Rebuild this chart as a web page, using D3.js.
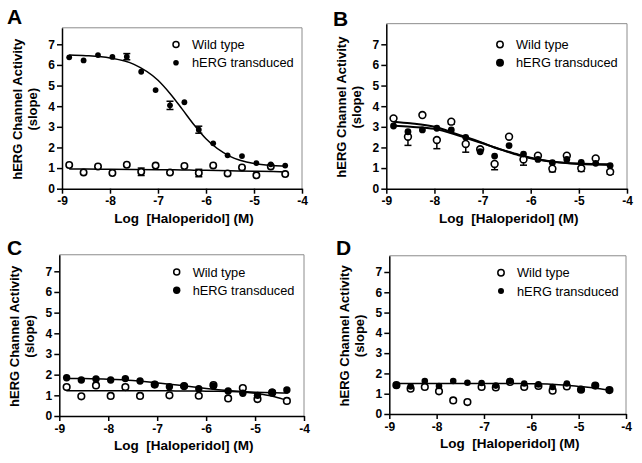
<!DOCTYPE html>
<html>
<head>
<meta charset="utf-8">
<script src="https://cdn.jsdelivr.net/npm/d3@7"></script>
<style>
  body { margin: 0; background: #fff; }
  svg { display: block; font-family: Arial, "Liberation Sans", sans-serif; }
</style>
</head>
<body>
<svg id="chart" width="642" height="463"></svg>
<script>
// concentrations, log10 M (2-fold dilution series)
const logConc = [-8.85, -8.55, -8.25, -7.95, -7.65, -7.35, -7.05, -6.75,
                 -6.45, -6.15, -5.85, -5.55, -5.25, -4.95, -4.65, -4.35];

// measured slopes
const aHerg = [6.37, 6.22, 6.48, 6.39, 6.40, 5.67, 4.78, 4.04, 4.19, 2.86, 2.20, 1.62, 1.58, 1.24, 1.18, 1.12];
const aWild = [1.15, 0.79, 1.08, 0.76, 1.16, 0.82, 1.12, 0.78, 1.10, 0.76, 1.13, 0.74, 1.03, 0.65, 1.08, 0.71];
const bHerg = [3.04, 2.76, 2.85, 2.93, 2.85, 2.49, 1.79, 1.58, 2.09, 1.68, 1.42, 1.26, 1.42, 1.28, 1.23, 1.12];
const bWild = [3.41, 2.52, 3.57, 2.36, 3.25, 2.17, 1.91, 1.20, 2.52, 1.42, 1.60, 0.97, 1.60, 0.99, 1.47, 0.82];
const cHerg = [1.85, 1.74, 1.79, 1.74, 1.81, 1.69, 1.53, 1.42, 1.44, 1.32, 1.45, 1.21, 1.10, 1.00, 1.15, 1.26];
const cWild = [1.40, 0.95, 1.48, 0.97, 1.40, 0.97, 1.52, 1.00, 1.45, 0.98, 1.50, 0.85, 1.35, 0.82, 1.13, 0.73];
const dHerg = [1.41, 1.36, 1.63, 1.38, 1.63, 1.54, 1.53, 1.40, 1.63, 1.50, 1.46, 1.33, 1.50, 1.20, 1.41, 1.18];
const dWild = [1.42, 1.25, 1.33, 1.12, 0.67, 0.59, 1.33, 1.31, 1.58, 1.33, 1.38, 1.15, 1.36, 1.20, 1.40, 1.18];

// error bars (SEM), null = none / hidden by the symbol
const aHergErr = [null, null, null, null, 0.15, null, null, 0.2, null, 0.17, null, null, null, null, null, null];
const aWildErr = [null, null, null, null, null, 0.18, null, null, null, 0.18, null, null, null, null, null, null];
const bWildErr = [null, 0.42, null, 0.42, 0.12, 0.4, null, 0.28, null, 0.28, null, 0.15, null, 0.15, null, 0.12];

// fitted curves
const fitX = [-8.85, -8.5, -8, -7.5, -7, -6.75, -6.5, -6.25, -6, -5.5, -5, -4.6, -4.33];
const aHergFit = [6.48, 6.45, 6.34, 6.03, 5.26, 4.62, 3.87, 3.10, 2.42, 1.57, 1.22, 1.12, 1.09];
const aWildFit = [0.96, 0.95, 0.94, 0.93, 0.92, 0.915, 0.91, 0.90, 0.89, 0.87, 0.85, 0.83, 0.81];
const bWildFit = [3.25, 3.17, 3.00, 2.62, 2.22, 2.00, 1.82, 1.65, 1.50, 1.30, 1.20, 1.17, 1.15];
const bHergFit = [3.05, 3.00, 2.90, 2.58, 2.20, 2.00, 1.80, 1.62, 1.48, 1.30, 1.22, 1.19, 1.18];
const cWildFit = [1.22, 1.22, 1.22, 1.22, 1.22, 1.22, 1.21, 1.21, 1.20, 1.19, 1.10, 0.93, 0.74];
const cHergFit = [1.82, 1.81, 1.78, 1.72, 1.60, 1.54, 1.47, 1.40, 1.33, 1.22, 1.15, 1.12, 1.11];
const dHergFit = [1.50, 1.50, 1.50, 1.50, 1.50, 1.50, 1.50, 1.50, 1.49, 1.46, 1.36, 1.26, 1.17];

const xTicks = [-9, -8, -7, -6, -5, -4];
const yTicks = [0, 1, 2, 3, 4, 5, 6, 7];
const legendLabels = ["Wild type", "hERG transduced"];
const yTitle = ["hERG Channel Activity", "(slope)"];
const xTitle = "Log\u00a0\u00a0[Haloperidol]\u00a0(M)";

const panels = [
  { letter: "A", lx: 7, ly: 24, left: 62, right: 302, zero: 188.7, seven: 44.3, yMax: 7.8,
    herg: aHerg, wild: aWild, hergErr: aHergErr, wildErr: aWildErr, fits: [aWildFit, aHergFit],
    rH: 2.9, rW: 3.2, legX: 176, legY: 44.5, legRH: 2.8, legRW: 3.0 },
  { letter: "B", lx: 333, ly: 26, left: 386.3, right: 627, zero: 188.7, seven: 44.3, yMax: 8.0,
    herg: bHerg, wild: bWild, hergErr: null, wildErr: bWildErr, fits: [bWildFit, bHergFit],
    rH: 3.4, rW: 3.4, legX: 500, legY: 44.5, legRH: 4.0, legRW: 3.2 },
  { letter: "C", lx: 7, ly: 255, left: 59.3, right: 304, zero: 416, seven: 271.3, yMax: 7.8,
    herg: cHerg, wild: cWild, hergErr: null, wildErr: null, fits: [cWildFit, cHergFit],
    rH: 3.7, rW: 3.3, legX: 176.7, legY: 272, legRH: 3.7, legRW: 3.0 },
  { letter: "D", lx: 336, ly: 255, left: 389.3, right: 626, zero: 414, seven: 272, yMax: 7.8,
    herg: dHerg, wild: dWild, hergErr: null, wildErr: null, fits: [dHergFit],
    rH: 3.3, rW: 3.3, legX: 501, legY: 272.7, legRH: 3.0, legRW: 3.2 }
];

const svg = d3.select("#chart");
svg.append("rect").attr("width", 642).attr("height", 463).attr("fill", "#fff");

panels.forEach((p) => {
  const unit = (p.zero - p.seven) / 7;
  const x = d3.scaleLinear().domain([-9, -4]).range([p.left, p.right]);
  const y = d3.scaleLinear().domain([0, p.yMax]).range([p.zero, p.zero - p.yMax * unit]);
  const g = svg.append("g");

  // light frame on top and right
  g.append("path")
    .attr("d", `M${p.left},${y(p.yMax)}H${p.right}V${p.zero}`)
    .attr("fill", "none")
    .attr("stroke", "#8c8c8c")
    .attr("stroke-width", 1);

  const yAxis = g.append("g")
    .attr("transform", `translate(${p.left},0)`)
    .call(d3.axisLeft(y).tickValues(yTicks).tickSize(5).tickSizeOuter(0).tickPadding(2).tickFormat((d) => String(d)));
  const xAxis = g.append("g")
    .attr("transform", `translate(0,${p.zero})`)
    .call(d3.axisBottom(x).tickValues(xTicks).tickSize(5).tickSizeOuter(0).tickPadding(3).tickFormat((d) => String(d)));
  [yAxis, xAxis].forEach((ax) => {
    ax.select(".domain").attr("stroke-width", 1.5);
    ax.selectAll(".tick line").attr("stroke-width", 1.5);
    ax.selectAll("text").attr("font-size", 12).attr("font-weight", "bold")
      .attr("font-family", "Arial, 'Liberation Sans', sans-serif").attr("fill", "#000");
  });

  // titles
  g.append("text")
    .attr("x", p.lx).attr("y", p.ly)
    .attr("font-size", 21).attr("font-weight", "bold")
    .text(p.letter);
  const midY = (p.zero + y(p.yMax)) / 2;
  yTitle.forEach((t, i) => {
    g.append("text")
      .attr("transform", `translate(${p.left - (i === 0 ? 45 : 30)},${midY + 1}) rotate(-90)`)
      .attr("text-anchor", "middle")
      .attr("dominant-baseline", "central")
      .attr("font-size", 13).attr("font-weight", "bold")
      .text(t);
  });
  g.append("text")
    .attr("x", (p.left + p.right) / 2 + 2).attr("y", p.zero + 34)
    .attr("text-anchor", "middle")
    .attr("font-size", 13.5).attr("font-weight", "bold")
    .text(xTitle);

  // fitted curves
  const line = d3.line()
    .x((d, i) => x(fitX[i]))
    .y((d) => y(d))
    .curve(d3.curveMonotoneX);
  g.selectAll(".fit").data(p.fits).enter().append("path")
    .attr("d", line)
    .attr("fill", "none")
    .attr("stroke", "#000")
    .attr("stroke-width", p.letter === "B" ? 2 : 1.5);

  // error bars
  const drawErr = (vals, errs, lowerOnly) => {
    if (!errs) return;
    const rows = vals.map((v, i) => ({ x: logConc[i], v, e: errs[i] })).filter((d) => d.e != null);
    rows.forEach((d) => {
      const top = lowerOnly ? d.v : d.v + d.e;
      const bot = d.v - d.e;
      g.append("line").attr("x1", x(d.x)).attr("x2", x(d.x))
        .attr("y1", y(top)).attr("y2", y(bot))
        .attr("stroke", "#000").attr("stroke-width", 1.5);
      const caps = lowerOnly ? [bot] : [top, bot];
      caps.forEach((c) => {
        g.append("line").attr("x1", x(d.x) - 3.5).attr("x2", x(d.x) + 3.5)
          .attr("y1", y(c)).attr("y2", y(c))
          .attr("stroke", "#000").attr("stroke-width", 1.5);
      });
    });
  };
  drawErr(p.wild, p.wildErr, p.letter === "B");
  drawErr(p.herg, p.hergErr, false);

  // symbols: open first, filled on top
  g.selectAll(".wild").data(p.wild).enter().append("circle")
    .attr("cx", (d, i) => x(logConc[i])).attr("cy", (d) => y(d))
    .attr("r", p.rW).attr("fill", "#fff").attr("stroke", "#000").attr("stroke-width", 1.6);
  g.selectAll(".herg").data(p.herg).enter().append("circle")
    .attr("cx", (d, i) => x(logConc[i])).attr("cy", (d) => y(d))
    .attr("r", p.rH).attr("fill", "#000");

  // legend
  const leg = g.append("g");
  leg.append("circle").attr("cx", p.legX).attr("cy", p.legY).attr("r", p.legRW)
    .attr("fill", "#fff").attr("stroke", "#000").attr("stroke-width", 1.5);
  leg.append("circle").attr("cx", p.legX).attr("cy", p.legY + 18.3).attr("r", p.legRH)
    .attr("fill", "#000");
  legendLabels.forEach((t, i) => {
    leg.append("text")
      .attr("x", p.legX + 16).attr("y", p.legY + i * 18.3)
      .attr("dominant-baseline", "central")
      .attr("font-size", 12.8)
      .text(t);
  });
});
</script>
</body>
</html>
